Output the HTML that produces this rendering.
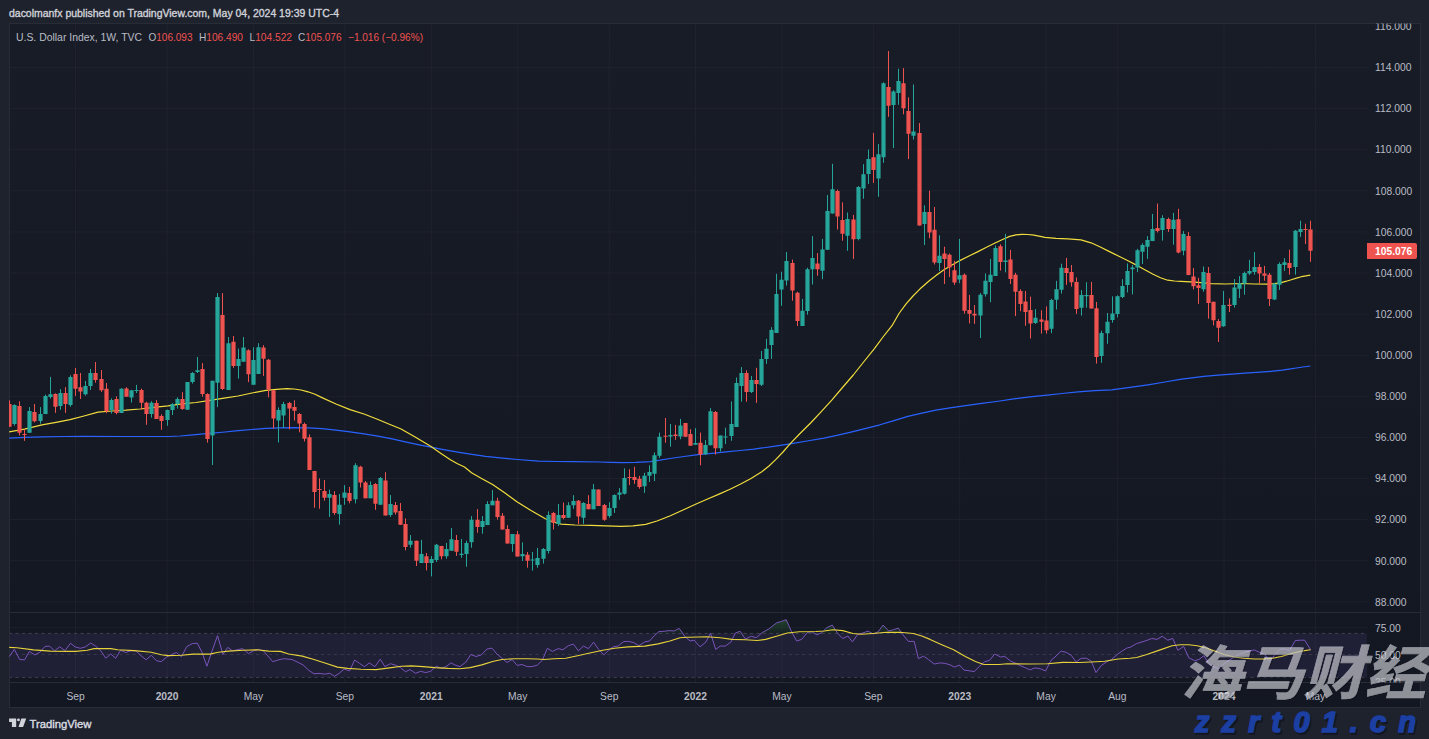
<!DOCTYPE html>
<html><head><meta charset="utf-8"><title>U.S. Dollar Index</title>
<style>html,body{margin:0;padding:0;background:#1e222d;}body{width:1429px;height:739px;overflow:hidden;position:relative;font-family:"Liberation Sans",sans-serif;}</style>
</head><body>
<svg width="1429" height="739" viewBox="0 0 1429 739" style="position:absolute;left:0;top:0">
<rect x="0" y="0" width="1429" height="739" fill="#1e222d"/>
<defs><linearGradient id="bgg" gradientUnits="userSpaceOnUse" x1="0" y1="23" x2="0" y2="707"><stop offset="0" stop-color="#181c27"/><stop offset="1" stop-color="#131722"/></linearGradient></defs>
<rect x="9" y="23" width="1411" height="684" fill="url(#bgg)"/>
<defs><linearGradient id="og" gradientUnits="userSpaceOnUse" x1="0" y1="614" x2="0" y2="633.4"><stop offset="0" stop-color="#2e7d32" stop-opacity="0.55"/><stop offset="1" stop-color="#2e7d32" stop-opacity="0.08"/></linearGradient><clipPath id="cp"><rect x="9" y="23" width="1358" height="589.5"/></clipPath><clipPath id="cr"><rect x="9" y="612.5" width="1358" height="70.0"/></clipPath><clipPath id="cb"><rect x="1367" y="612.5" width="53" height="70.0"/></clipPath><clipPath id="ca"><rect x="1367" y="23.5" width="53" height="684"/></clipPath></defs>
<path d="M75.6 23V682.5M167.1 23V682.5M253.4 23V682.5M344.9 23V682.5M431.3 23V682.5M517.7 23V682.5M609.2 23V682.5M695.5 23V682.5M781.9 23V682.5M873.3 23V682.5M959.7 23V682.5M1046.1 23V682.5M1117.3 23V682.5M1224 23V682.5M1315.4 23V682.5M9 601.8H1367M9 560.7H1367M9 519.6H1367M9 478.5H1367M9 437.4H1367M9 396.3H1367M9 355.2H1367M9 314.1H1367M9 273H1367M9 231.9H1367M9 190.8H1367M9 149.7H1367M9 108.6H1367M9 67.5H1367M9 627.7H1367" stroke="#2a2e39" stroke-opacity="0.42" stroke-width="1" fill="none"/>
<rect x="9" y="633.4" width="1358" height="44.0" fill="#7e57c2" fill-opacity="0.12"/>
<path d="M9 633.4H1367M9 677.4H1367" stroke="#787b86" stroke-opacity="0.4" stroke-width="1" stroke-dasharray="3.2 3.3" fill="none"/>
<path d="M9 654.5H1367" stroke="#787b86" stroke-opacity="0.26" stroke-width="1" stroke-dasharray="3.2 3.3" fill="none"/>
<path d="M9 612.5H1420M9 682.5H1420" stroke="#282c37" stroke-width="1" fill="none"/>
<path d="M1367.5 23V682.5" stroke="#20242f" stroke-width="1" fill="none" opacity="0"/>
<rect x="9.5" y="23.5" width="1411" height="684" fill="none" stroke="#282c37" stroke-width="1"/>
<g clip-path="url(#cp)">
<path d="M9.2 438.1L25 437.4L42 436.8L63 436.5L84 436.3L126 436.5L168 436.5L180 436L190.3 435.1L201 434.2L212.7 433.2L225 432L238 430.7L252 429.5L266 428.4L280 427.8L294 427.6L308 427.9L322 428.7L336 430.1L350 431.8L364 433.9L378 436.2L392 438.9L406.4 442.1L418 444.6L431 447.2L445 449.9L459.2 452.4L472 454.4L485.6 456.3L500 457.9L517.3 459.5L538.4 461.1L556 461.5L573.6 461.7L600 462L611 462.4L622.4 462.6L636 462.4L650.4 461.6L660 460.2L670 458.5L684 456.5L698 454.7L712 453.3L726 451.9L740 450.5L754 449.1L772 446.6L790.3 443.8L807 441L824 438.2L838 435.1L852 431.8L866 428.3L880 424.8L894 420.6L907.9 416.4L922 413.2L935.9 410.2L950 407.9L963.9 405.8L980 403.7L1000 401L1013.6 398.9L1030 396.9L1047.2 395.1L1062 393.5L1078 391.8L1095 390.7L1111.6 389.8L1130 387.4L1148 384.8L1165 382L1181.5 379.2L1192 377.8L1203.9 376.4L1218 375.2L1231.9 374.1L1245 373.2L1259.9 372.2L1271 371.3L1282.3 370.2L1289 369.2L1296.3 368L1303 367L1310.3 366" stroke="#2962ff" stroke-width="1.2" fill="none" stroke-linejoin="round"/>
<path d="M9.2 431.8L24.5 429.2L42 424.8L56 422.3L70 419.7L84 416L98 412.2L112 411L126 410.2L140 409L154 407.4L168 405.8L182 403.8L196 402.5L210 400.4L224 398.2L238 396L252 393L266 390.4L273.3 389.6L280 389.1L287 388.7L294 389L301 390L308 391.8L315 394.3L322 397.6L336 404L350 409.6L364 414L378 419.5L390 424.5L401.1 429L416 437.5L431 446.6L441 453.5L450.4 459.8L457 463.5L464.5 467L471.5 472.8L482 478.7L492.6 484.5L505 493L517.3 502.1L531 510.5L545.4 518.8L553 522L561.2 524.1L575 525L591.2 525.3L606 525.8L621.1 526.3L633 525.8L645.7 524.3L657 521L670.4 515.7L683 510L695 504.5L707 499.3L719.6 493.9L730 489.3L740.7 484L751 478.5L761.8 471.7L769 466L775.9 459.4L783 452L790 443.8L800 433.5L811.1 422.5L821.5 411.3L832.2 399.6L842.5 387.5L853.3 375L864 361.5L874.4 348.6L883 337L892 325.7L899 313.5L906.1 303.8L913 296L920.1 288.8L929.3 280.8L937 274.8L944 269.8L952 265L959.8 260.6L969 256L978 251.6L986.5 247.3L995.1 243L1002.5 239.5L1009.7 236.4L1016 234.9L1021.9 234.3L1028 234.5L1034 235.2L1045 237.3L1056 238.3L1068 238.9L1081 239.9L1091 242.8L1100.3 247L1109 251.4L1117.9 255.8L1126.5 260L1135.5 264.6L1144.3 269.5L1153.1 274.2L1160.5 277.7L1167.7 280.2L1174.5 281L1180.9 281.3L1195 282.2L1211.3 283.6L1225.5 284L1241.7 283.5L1254 284L1267 284.2L1274.5 283.7L1281.2 282.7L1286.5 281.2L1291.3 279.7L1296.4 278.2L1301.4 276.7L1306 275.8L1310.3 275.1" stroke="#f0dc3c" stroke-width="1.2" fill="none" stroke-linejoin="round"/>
<path d="M1300.5 220.7V236.9M1295.5 230V274.7M1284.5 258.2V271M1279.5 262.3V289.9M1274.5 282.8V300M1254.5 252.1V274.7M1249.5 259.8V275.1M1244.5 271.6V294.7M1239.5 276.1V298M1234.5 279.1V307.5M1223.5 290.9V326.8M1203.5 266.5V291.7M1183.5 231.1V255.3M1173.5 212.9V244.7M1162.5 215.3V240.6M1152.5 213.9V241.1M1147.5 236.2V258.9M1142.5 243.3V264M1137.5 248.8V272.1M1132.5 265V294.4M1127.5 263.4V292.4M1122.5 279.2V298.1M1117.5 295.4V317.4M1112.5 296.3V322.7M1107.5 313V343.8M1101.5 330.6V362.8M1086.5 282.2V307.7M1081.5 290.1V315.6M1061.5 263.7V293.6M1056.5 280.8V309.5M1051.5 298.9V333.2M1035.5 309.1V323.9M1005.5 233.8V272.3M995.5 245.5V275.9M990.5 258.9V302.2M985.5 273.5V296.6M980.5 293V338M959.5 238.9V283.2M939.5 235.3V271M924.5 205.3V245M913.5 84.5V139.5M898.5 68.8V104.8M893.5 90.2V148.1M883.5 82.3V162.8M878.5 143.9V196.8M868.5 149.6V183.9M863.5 164.2V198.7M858.5 186.1V240.3M847.5 212.5V250.8M832.5 163.8V213.5M827.5 195V249.8M822.5 238.9V279.2M812.5 236.2V284.5M807.5 267.7V314.7M802.5 298.9V326M786.5 252V285.5M781.5 271.7V305.8M776.5 273.8V332.9M771.5 327.2V358.9M766.5 338.8V363.9M761.5 351V386M751.5 376V393M741.5 367.1V401.7M736.5 377.5V427M731.5 401.4V440.8M725.5 427.7V444.1M720.5 435.6V451.5M710.5 408.1V445.3M705.5 440.1V454.9M695.5 428.1V444.8M680.5 418.9V439.3M670.5 424V446.7M659.5 432.6V457.9M654.5 452.4V481M649.5 465.3V482M644.5 472.8V492.9M624.5 468.3V494.5M619.5 488.1V499.7M614.5 494.3V512.9M609.5 502.2V517.8M593.5 484V509.3M583.5 502.2V523.8M573.5 495.2V508.9M568.5 502.2V517.8M558.5 504V526M548.5 511.4V553.5M543.5 548V563.6M537.5 547.9V567.7M532.5 552V570.6M522.5 542.4V561M512.5 534V551.8M492.5 490.1V505.3M487.5 501.2V525.1M482.5 516.1V533.7M471.5 516.1V547.7M466.5 540.7V566.7M461.5 538.9V557.8M451.5 528V550.8M446.5 542.9V558.8M436.5 543.9V562M431.5 556V576.4M421.5 539.9V563M410.5 535V547.7M390.5 495V516.9M380.5 477V504.8M370.5 481.4V498.3M355.5 463.2V503.4M344.5 485.1V504.8M339.5 494V524.7M329.5 489.6V516.9M283.5 401.9V428.1M278.5 407.4V442.5M258.5 343.2V373.9M253.5 347.2V384.7M243.5 337.1V361.7M238.5 348.6V378.6M228.5 337.1V389.9M217.5 293.1V407.1M212.5 380.7V465M197.5 357V373M192.5 372.1V383.6M187.5 382.1V409.8M177.5 397.4V408.5M172.5 403.2V415M167.5 409.5V425.8M151.5 401.2V417.7M136.5 384.9V393M131.5 390.2V402.5M121.5 388.2V412.9M111.5 398.3V413.6M90.5 368.9V389.9M85.5 381V395.6M70.5 375.3V406.7M60.5 389.1V409.8M50.5 376.9V398.6M45.5 394.6V414.1M40.5 407.1V423.7M29.5 407.1V432.8M14.5 404.4V425.6" stroke="#26a69a" stroke-width="1" fill="none"/>
<path d="M1310.5 220.7V261.9M1305.5 223.7V244M1289.5 249.7V274.7M1269.5 273V306.1M1264.5 265.9V280.7M1259.5 263.9V283.6M1229.5 298.4V312M1218.5 319.1V342M1213.5 301.8V325.4M1208.5 267V318.7M1198.5 277.8V303.9M1193.5 268V289.3M1188.5 232.1V275.1M1178.5 208.8V253.4M1168.5 217.7V231.9M1157.5 203.5V232.5M1096.5 301.9V363.6M1091.5 281.9V308.6M1076.5 277.5V313.9M1071.5 265V286.6M1066.5 257.9V284.8M1046.5 306.5V333.6M1041.5 310.3V333.6M1030.5 296.6V338.5M1025.5 291V325.8M1020.5 289.3V311.2M1015.5 272.8V316.1M1010.5 249.9V284M1000.5 244.3V270.6M974.5 305.1V323.9M969.5 294.9V323.4M964.5 273.5V313.7M954.5 260.8V284.9M949.5 253.5V277.1M944.5 246.7V284M934.5 207V264.5M929.5 190.7V238.2M919.5 123V225.5M908.5 97.3V159.1M903.5 68.1V114.3M888.5 51V116.8M873.5 132.9V182.9M853.5 214.9V258.9M842.5 202.3V240.7M837.5 189.6V229.5M817.5 253.1V275.8M797.5 291.8V326M792.5 259.6V300.7M756.5 367.8V402.9M746.5 370.3V401.7M715.5 411V454.6M700.5 432.6V465.3M690.5 429.2V445.7M685.5 422.9V436.8M675.5 424.9V439.8M665.5 418V442.7M639.5 475.8V488.7M634.5 466.8V483.9M629.5 469.2V485.1M604.5 504V520.8M598.5 489.5V505.9M588.5 495.2V509.3M578.5 500V524.1M563.5 502.5V519.3M553.5 511.9V529.4M527.5 552V567.7M517.5 530.9V556.5M507.5 525.1V543.6M502.5 513.1V529.5M497.5 497.8V519.5M477.5 509.1V532.8M456.5 535V555.9M441.5 545.9V559.3M426.5 553V570.4M416.5 540.7V566M405.5 518.4V550.3M400.5 503V524.8M395.5 502V514.6M385.5 472.2V515.4M375.5 483.1V509.8M365.5 481V498.3M360.5 465.8V487.5M349.5 486.9V503.4M334.5 491.2V514.9M324.5 480V500.7M319.5 478.4V508.8M314.5 470.9V507.8M309.5 434.4V469.9M304.5 422.6V441.5M299.5 413.1V432.3M294.5 400.3V420.6M289.5 401.9V429.3M273.5 390.2V428.5M268.5 359V397.3M263.5 345.2V375.9M248.5 349.3V382.2M233.5 336V367.8M222.5 293.1V389.9M207.5 393.3V442.7M202.5 363.1V396.7M182.5 392.2V409.8M161.5 414.3V429.8M156.5 400.1V419M146.5 401.8V424.8M141.5 388.6V409.5M126.5 387.2V396.7M116.5 396.3V414.3M106.5 383V413.2M101.5 370V391.8M95.5 362V382.7M80.5 373V399M75.5 368V395.9M65.5 387.1V412.9M55.5 393.3V412.9M34.5 404V422.3M24.5 429.2V440.9M19.5 401.3V435.5M9.5 400.3V426.7" stroke="#ef5350" stroke-width="1" fill="none"/>
<path d="M1298.4 229h4.2V231.9h-4.2zM1293.4 230.8h4.2V267h-4.2zM1282.4 262.3h4.2V264.9h-4.2zM1277.4 263.9h4.2V284.8h-4.2zM1272.4 283.8h4.2V299.4h-4.2zM1252.4 267h4.2V272h-4.2zM1247.4 271h4.2V273.6h-4.2zM1242.4 273h4.2V283.6h-4.2zM1237.4 283.2h4.2V288.7h-4.2zM1232.4 287.6h4.2V305.1h-4.2zM1221.4 305.1h4.2V326.2h-4.2zM1201.4 272h4.2V289.3h-4.2zM1181.4 234h4.2V250.8h-4.2zM1171.4 219.8h4.2V228.9h-4.2zM1160.4 217.9h4.2V229.9h-4.2zM1150.4 229.1h4.2V241.1h-4.2zM1145.4 240h4.2V246.7h-4.2zM1140.4 245.1h4.2V251.8h-4.2zM1135.4 250.2h4.2V267.4h-4.2zM1130.4 267.6h4.2V269.3h-4.2zM1125.4 271.1h4.2V284.9h-4.2zM1120.4 285.9h4.2V297h-4.2zM1115.4 296.3h4.2V313.9h-4.2zM1110.4 313.5h4.2V320h-4.2zM1105.4 321.8h4.2V333.2h-4.2zM1099.4 332.9h4.2V356.1h-4.2zM1084.4 295h4.2V296.3h-4.2zM1079.4 295h4.2V307.7h-4.2zM1059.4 267.8h4.2V289.8h-4.2zM1054.4 289.2h4.2V299.8h-4.2zM1049.4 300.1h4.2V328.8h-4.2zM1033.4 317.7h4.2V323h-4.2zM1003.4 260.6h4.2V262h-4.2zM993.4 247.9h4.2V275.9h-4.2zM988.4 274.7h4.2V282h-4.2zM983.4 280.8h4.2V294.2h-4.2zM978.4 294.7h4.2V315.6h-4.2zM957.4 275.2h4.2V279.6h-4.2zM937.4 255.7h4.2V263h-4.2zM922.4 212.1h4.2V224.1h-4.2zM911.4 131.6h4.2V135.7h-4.2zM896.4 81.1h4.2V93.1h-4.2zM891.4 91.6h4.2V105h-4.2zM881.4 83.2h4.2V157.2h-4.2zM876.4 154.3h4.2V178.4h-4.2zM866.4 159.1h4.2V174h-4.2zM861.4 174.2h4.2V188.4h-4.2zM856.4 186.9h4.2V238.9h-4.2zM845.4 219h4.2V235.8h-4.2zM830.4 189.2h4.2V213.5h-4.2zM825.4 210.9h4.2V249.8h-4.2zM820.4 249.4h4.2V270.7h-4.2zM810.4 257.9h4.2V269.3h-4.2zM805.4 269.3h4.2V310.9h-4.2zM800.4 310.8h4.2V326h-4.2zM784.4 261h4.2V280.5h-4.2zM779.4 279.8h4.2V289.6h-4.2zM774.4 294h4.2V332.9h-4.2zM769.4 329.9h4.2V345.1h-4.2zM764.4 348.8h4.2V358.9h-4.2zM759.4 358.9h4.2V384.8h-4.2zM749.4 380h4.2V391.9h-4.2zM739.4 373h4.2V386h-4.2zM734.4 383h4.2V427h-4.2zM729.4 424h4.2V436h-4.2zM723.4 436.4h4.2V437.4h-4.2zM718.4 435.6h4.2V448.2h-4.2zM708.4 411.3h4.2V445.3h-4.2zM703.4 445h4.2V454.2h-4.2zM693.4 443h4.2V444.8h-4.2zM678.4 425.5h4.2V436.6h-4.2zM668.4 435.1h4.2V436.6h-4.2zM657.4 436.8h4.2V455.7h-4.2zM652.4 455.2h4.2V473.8h-4.2zM647.4 472h4.2V475.8h-4.2zM642.4 475.8h4.2V486.2h-4.2zM622.4 478.1h4.2V493.7h-4.2zM617.4 492.5h4.2V494.8h-4.2zM612.4 495.1h4.2V508.1h-4.2zM607.4 508.1h4.2V516h-4.2zM591.4 489.3h4.2V509.3h-4.2zM581.4 502.9h4.2V517.8h-4.2zM571.4 501h4.2V505.2h-4.2zM566.4 505.2h4.2V517.8h-4.2zM556.4 515.1h4.2V524.1h-4.2zM546.4 515.1h4.2V550.9h-4.2zM541.4 549.1h4.2V558.7h-4.2zM535.4 558h4.2V565h-4.2zM530.4 559.6h4.2V560.6h-4.2zM520.4 554h4.2V556.2h-4.2zM510.4 534h4.2V543.9h-4.2zM490.4 500.8h4.2V505.3h-4.2zM485.4 503.9h4.2V525.1h-4.2zM480.4 521h4.2V527h-4.2zM469.4 519.8h4.2V542.2h-4.2zM464.4 542.9h4.2V554.1h-4.2zM459.4 553.8h4.2V555.1h-4.2zM449.4 539.2h4.2V550.8h-4.2zM444.4 548.9h4.2V556.3h-4.2zM434.4 544.8h4.2V560h-4.2zM429.4 559h4.2V563h-4.2zM419.4 554.1h4.2V563h-4.2zM408.4 540.7h4.2V544.8h-4.2zM388.4 503.9h4.2V514.9h-4.2zM378.4 478h4.2V504.8h-4.2zM368.4 484.9h4.2V498.3h-4.2zM353.4 465.2h4.2V499.3h-4.2zM342.4 492.6h4.2V497.7h-4.2zM337.4 504.8h4.2V513.9h-4.2zM327.4 494h4.2V497.7h-4.2zM281.4 403.9h4.2V415.5h-4.2zM276.4 410h4.2V420.6h-4.2zM256.4 347.2h4.2V373.9h-4.2zM251.4 360.1h4.2V384.7h-4.2zM241.4 347.5h4.2V361.7h-4.2zM236.4 359h4.2V365.9h-4.2zM226.4 343.2h4.2V389.9h-4.2zM215.4 296.9h4.2V382.7h-4.2zM210.4 380.7h4.2V435.5h-4.2zM195.4 370.3h4.2V371.9h-4.2zM190.4 373h4.2V382.1h-4.2zM185.4 382.1h4.2V409.8h-4.2zM175.4 399h4.2V404.1h-4.2zM170.4 404.1h4.2V409.9h-4.2zM165.4 409.9h4.2V420h-4.2zM149.4 402.8h4.2V413.9h-4.2zM134.4 390h4.2V391h-4.2zM129.4 390.2h4.2V397.4h-4.2zM119.4 388.8h4.2V412.9h-4.2zM109.4 400.1h4.2V410.1h-4.2zM88.4 373.1h4.2V386h-4.2zM83.4 386h4.2V394.2h-4.2zM68.4 377.1h4.2V405.1h-4.2zM58.4 393h4.2V405.9h-4.2zM48.4 394.2h4.2V396.9h-4.2zM43.4 396h4.2V414.1h-4.2zM38.4 414h4.2V420.9h-4.2zM27.4 410.9h4.2V432.8h-4.2zM12.4 405.1h4.2V424h-4.2z" fill="#26a69a"/>
<path d="M1308.4 229.4h4.2V250.7h-4.2zM1303.4 229.1h4.2V230.1h-4.2zM1287.4 262.9h4.2V268h-4.2zM1267.4 274.7h4.2V299h-4.2zM1262.4 273.6h4.2V275.7h-4.2zM1257.4 267h4.2V273.6h-4.2zM1227.4 304.7h4.2V306.1h-4.2zM1216.4 321.1h4.2V327.8h-4.2zM1211.4 301.8h4.2V320.3h-4.2zM1206.4 273h4.2V302.9h-4.2zM1196.4 285.3h4.2V287.9h-4.2zM1191.4 276.6h4.2V286.3h-4.2zM1186.4 236h4.2V275.1h-4.2zM1176.4 219.3h4.2V252.4h-4.2zM1166.4 218.9h4.2V229.1h-4.2zM1155.4 227.9h4.2V231.1h-4.2zM1094.4 308.2h4.2V357h-4.2zM1089.4 294.9h4.2V308.6h-4.2zM1074.4 281.9h4.2V309.1h-4.2zM1069.4 272h4.2V282.2h-4.2zM1064.4 268.1h4.2V272.9h-4.2zM1044.4 320.4h4.2V330.2h-4.2zM1039.4 319.5h4.2V321.8h-4.2zM1028.4 310h4.2V323.5h-4.2zM1023.4 301.5h4.2V312h-4.2zM1018.4 291h4.2V303.9h-4.2zM1013.4 274.7h4.2V291.7h-4.2zM1008.4 259.4h4.2V279.1h-4.2zM998.4 246.2h4.2V262h-4.2zM972.4 313.7h4.2V315.6h-4.2zM967.4 310h4.2V313.7h-4.2zM962.4 274.7h4.2V310.7h-4.2zM952.4 270.3h4.2V282.5h-4.2zM947.4 254.7h4.2V267.4h-4.2zM942.4 253.5h4.2V258.9h-4.2zM932.4 229.7h4.2V262.5h-4.2zM927.4 211.9h4.2V232.6h-4.2zM917.4 133h4.2V225.5h-4.2zM906.4 111.1h4.2V133.8h-4.2zM901.4 83.2h4.2V108.2h-4.2zM886.4 87h4.2V105.8h-4.2zM871.4 157.2h4.2V169.9h-4.2zM851.4 219.4h4.2V239.3h-4.2zM840.4 220h4.2V233.8h-4.2zM835.4 191h4.2V216.5h-4.2zM815.4 263.6h4.2V269.3h-4.2zM795.4 292.7h4.2V320.9h-4.2zM790.4 263h4.2V290.4h-4.2zM754.4 380h4.2V384h-4.2zM744.4 373h4.2V391.9h-4.2zM713.4 412.1h4.2V448.2h-4.2zM698.4 442.7h4.2V454.6h-4.2zM688.4 434.1h4.2V445.7h-4.2zM683.4 422.9h4.2V436.8h-4.2zM673.4 434.4h4.2V435.9h-4.2zM663.4 435.8h4.2V436.8h-4.2zM637.4 478.7h4.2V486.9h-4.2zM632.4 476.9h4.2V479.9h-4.2zM627.4 477.1h4.2V478.1h-4.2zM602.4 504.9h4.2V519.8h-4.2zM596.4 489.5h4.2V505.9h-4.2zM586.4 504h4.2V509.3h-4.2zM576.4 500.7h4.2V516.6h-4.2zM561.4 515.1h4.2V518.1h-4.2zM551.4 512.9h4.2V522.7h-4.2zM525.4 554.7h4.2V560.7h-4.2zM515.4 534.2h4.2V556.5h-4.2zM505.4 529.1h4.2V543.6h-4.2zM500.4 515.8h4.2V529.5h-4.2zM495.4 500.8h4.2V516.9h-4.2zM475.4 519.8h4.2V527h-4.2zM454.4 539.9h4.2V551.8h-4.2zM439.4 545.9h4.2V556.3h-4.2zM424.4 556.3h4.2V563h-4.2zM414.4 540.7h4.2V560.8h-4.2zM403.4 523.9h4.2V546.9h-4.2zM398.4 510.9h4.2V524.8h-4.2zM393.4 505h4.2V512.4h-4.2zM383.4 480.4h4.2V515.4h-4.2zM373.4 483.9h4.2V503.8h-4.2zM363.4 482.5h4.2V498.3h-4.2zM358.4 466.8h4.2V482.5h-4.2zM347.4 493h4.2V501.1h-4.2zM332.4 495h4.2V512.9h-4.2zM322.4 491h4.2V497.7h-4.2zM317.4 488.9h4.2V490h-4.2zM312.4 470.9h4.2V492h-4.2zM307.4 437.2h4.2V469.9h-4.2zM302.4 424h4.2V438.8h-4.2zM297.4 414.1h4.2V423.6h-4.2zM292.4 407h4.2V410.8h-4.2zM287.4 402.9h4.2V408.4h-4.2zM271.4 390.2h4.2V418.6h-4.2zM266.4 359.8h4.2V389.5h-4.2zM261.4 347.5h4.2V358.7h-4.2zM246.4 350.2h4.2V374.3h-4.2zM231.4 341.8h4.2V365.9h-4.2zM220.4 315.1h4.2V388.9h-4.2zM205.4 393.9h4.2V438.9h-4.2zM200.4 368.9h4.2V393.9h-4.2zM180.4 399h4.2V409.1h-4.2zM159.4 415.9h4.2V421h-4.2zM154.4 403h4.2V419h-4.2zM144.4 402.8h4.2V413.9h-4.2zM139.4 389.9h4.2V402.8h-4.2zM124.4 388.6h4.2V396.7h-4.2zM114.4 399h4.2V412.9h-4.2zM104.4 388.8h4.2V411.2h-4.2zM99.4 379.1h4.2V390.2h-4.2zM93.4 373h4.2V380h-4.2zM78.4 387.2h4.2V391.5h-4.2zM73.4 374.1h4.2V388.8h-4.2zM63.4 393h4.2V404h-4.2zM53.4 394h4.2V406.8h-4.2zM32.4 412h4.2V421.3h-4.2zM22.4 434.1h4.2V435.1h-4.2zM17.4 406h4.2V432.8h-4.2zM7.4 404h4.2V426.7h-4.2z" fill="#ef5350"/>
</g>
<g clip-path="url(#cr)">
<path d="M9.2 633.4L14.3 633.4L19.7 633.4L24.7 633.4L29.4 633.4L34.8 633.4L39.8 633.4L45 633.4L49.5 633.4L54.6 633.4L59.6 633.4L65 633.4L70.5 633.4L75.1 633.4L80.3 633.4L85.3 633.4L90.7 633.4L95.7 633.4L100.8 633.4L105.8 633.4L110.8 633.4L115.6 633.4L120.6 633.4L125.6 633.4L130.7 633.4L136 633.4L141.1 633.4L146.1 633.4L151.2 633.4L156.5 633.4L161.2 633.4L166.6 633.4L171.6 633.4L176.4 633.4L181.4 633.4L186.8 633.4L192.3 633.4L197.3 633.4L202 633.4L206.9 633.4L212 633.4L217.5 633.4L223 633.4L227.6 633.4L232.6 633.4L242.6 633.4L248.5 633.4L253.5 633.4L258.6 633.4L263.6 633.4L272.8 633.4L277.9 633.4L283.7 633.4L292.1 633.4L303.1 633.4L308.9 633.4L314 633.4L319 633.4L324.9 633.4L329.9 633.4L334.5 633.4L339.2 633.4L344.2 633.4L349.6 633.4L354.6 633.4L359.3 633.4L364.4 633.4L369.4 633.4L374.8 633.4L380.3 633.4L384.9 633.4L390.4 633.4L395.4 633.4L400.5 633.4L405.5 633.4L410 633.4L415.6 633.4L420.6 633.4L425.7 633.4L430.7 633.4L436.2 633.4L441.3 633.4L445.8 633.4L450.9 633.4L455.9 633.4L460 633.4L465.9 633.4L470.9 633.4L476 633.4L481.5 633.4L486.9 633.4L491.9 633.4L496.9 633.4L502 633.4L507 633.4L512.1 633.4L517.1 633.4L522.1 633.4L527.2 633.4L532.2 633.4L537.3 633.4L542.3 633.4L547.3 633.4L552.4 633.4L558.3 633.4L562.8 633.4L568.3 633.4L573.4 633.4L578.4 633.4L583.4 633.4L588.5 633.4L593.5 633.4L598.6 633.4L603.9 633.4L608.6 633.4L613.7 633.4L617.9 633.4L623.8 633.4L628.8 633.4L633.8 633.4L638.9 633.4L644.7 633.4L649.5 633.4L654.8 633.4L659 631.5L664.1 631.3L669.1 630.6L674.1 631L679.2 628.4L685.1 633.4L690.1 633.4L694.2 633.4L700.1 633.4L706 633.4L710.5 633.1L715.7 633.4L720.2 633.4L725.3 633.4L731.1 633.4L735.3 633L740.1 631.3L745.4 633.4L751.3 633.4L756.3 633.4L762.2 632.6L768.9 628.9L776.5 622.9L781.5 621.4L786.2 619.7L791.6 631.8L796.7 633.4L801.7 633.4L807.6 632.3L811.8 631.8L816.8 633.4L821.8 632.6L826.9 627.6L832.3 625.1L837.8 633.4L842.8 633.4L847.9 633.4L852.4 633.4L858 633.4L863 633L868 631L873.1 633.4L878.1 631.8L883.1 625.1L888.7 631L893.2 629.8L898.3 628.1L903.3 633.4L908.3 633.4L914.2 633.4L918.4 633.4L923.5 633.4L928.4 633.4L934.3 633.4L940.2 633.4L945.2 633.4L950.2 633.4L954.4 633.4L959.5 633.4L964 633.4L969.5 633.4L974.1 633.4L979.6 633.4L984.7 633.4L989.7 633.4L994.7 633.4L1000.6 633.4L1004.8 633.4L1010.7 633.4L1015.7 633.4L1020.8 633.4L1025.8 633.4L1030 633.4L1035 633.4L1040.1 633.4L1045.6 633.4L1051 633.4L1056 633.4L1061.1 633.4L1066.1 633.4L1071.2 633.4L1076.2 633.4L1081.2 633.4L1086.3 633.4L1091.3 633.4L1096 633.4L1101.4 633.4L1106.4 633.4L1111.5 633.4L1117.3 633.4L1122.4 633.4L1127.4 633.4L1130 633.4L1136.7 633.4L1145.1 633.4L1151.8 633.4L1156.9 633.4L1162.2 633.4L1167.8 633.4L1172.8 633.4L1177.9 633.4L1183.7 633.4L1188.8 633.4L1194.7 633.4L1198.9 633.4L1203.9 633.4L1208.9 633.4L1214 633.4L1219 633.4L1224.1 633.4L1229.1 633.4L1234.1 633.4L1239.2 633.4L1244.2 633.4L1249.2 633.4L1254.3 633.4L1259.3 633.4L1264.4 633.4L1269.4 633.4L1274.4 633.4L1279.5 633.4L1284.5 633.4L1289.6 633.4L1295.4 633.4L1300.5 633.4L1304.7 633.4L1310.6 633.4L1310.6 633.4L9.2 633.4z" fill="url(#og)"/>
<path d="M9.2 656.7L14.3 649.4L19.7 659.5L24.7 659.8L29.4 651.4L34.8 655L39.8 652.3L45 646.4L49.5 646.2L54.6 650.8L59.6 646.9L65 650.6L70.5 643.2L75.1 646.9L80.3 648.3L85.3 646.9L90.7 643L95.7 646.1L100.8 650.8L105.8 658.2L110.8 654L115.6 658.3L120.6 650.3L125.6 652.5L130.7 650.8L136 650.8L141.1 655.8L146.1 659.8L151.2 655.3L156.5 660.7L161.2 661.7L166.6 657L171.6 654.5L176.4 652.6L181.4 656.7L186.8 646.6L192.3 643.6L197.3 643.2L202 652.3L206.9 666.2L212 651.1L217.5 635.7L223 654.5L227.6 647.4L232.6 650.8L242.6 648.6L248.5 653.6L253.5 650.8L258.6 649.4L263.6 651.1L272.8 661.7L277.9 660L283.7 658.7L292.1 659.5L303.1 664.9L308.9 670.4L314 673.8L319 673.4L324.9 674.1L329.9 673.3L334.5 676.3L339.2 673.3L344.2 669.1L349.6 670.9L354.6 660L359.3 663.2L364.4 666.7L369.4 662.9L374.8 666.7L380.3 659.2L384.9 666.6L390.4 663.7L395.4 665.1L400.5 667.6L405.5 671.8L410 669.6L415.6 673.3L420.6 671.3L425.7 672.6L430.7 671.3L436.2 666.2L441.3 668.4L445.8 666.7L450.9 662.9L455.9 665.4L460 666.6L465.9 662L470.9 654.5L476 656.5L481.5 654.8L486.9 649.1L491.9 648.1L496.9 654L502 658.3L507 662.5L512.1 659.5L517.1 665.4L522.1 664.5L527.2 666.6L532.2 666.6L537.3 665.1L542.3 660.3L547.3 648.3L552.4 651.4L558.3 648.6L562.8 649.8L568.3 645.7L573.4 644.1L578.4 650.8L583.4 646.1L588.5 648.6L593.5 642.2L598.6 649.4L603.9 654.8L608.6 650.3L613.7 646.6L617.9 646.1L623.8 641.5L628.8 641.4L633.8 642.7L638.9 645.7L644.7 641.9L649.5 641L654.8 635.2L659 631.5L664.1 631.3L669.1 630.6L674.1 631L679.2 628.4L685.1 636.8L690.1 641L694.2 640.2L700.1 646.9L706 641.9L710.5 633.1L715.7 649.4L720.2 646.1L725.3 646.1L731.1 641.9L735.3 633L740.1 631.3L745.4 639L751.3 636.3L756.3 637.7L762.2 632.6L768.9 628.9L776.5 622.9L781.5 621.4L786.2 619.7L791.6 631.8L796.7 641L801.7 639.4L807.6 632.3L811.8 631.8L816.8 634.8L821.8 632.6L826.9 627.6L832.3 625.1L837.8 633.5L842.8 638.5L847.9 636L852.4 641.9L858 634L863 633L868 631L873.1 634L878.1 631.8L883.1 625.1L888.7 631L893.2 629.8L898.3 628.1L903.3 635.2L908.3 641.4L914.2 641.4L918.4 658.7L923.5 656.1L928.4 659.5L934.3 664L940.2 662.9L945.2 663.4L950.2 664.9L954.4 667.1L959.5 665.1L964 670.1L969.5 670.8L974.1 671.6L979.6 666.2L984.7 661.7L989.7 660.3L994.7 654L1000.6 657L1004.8 656.5L1010.7 661.2L1015.7 663.2L1020.8 665.9L1025.8 667.9L1030 669.9L1035 667.9L1040.1 668.7L1045.6 670.9L1051 660.3L1056 656.1L1061.1 651.1L1066.1 652.3L1071.2 655.3L1076.2 662L1081.2 658.3L1086.3 658.2L1091.3 661.2L1096 672.6L1101.4 665.4L1106.4 662L1111.5 659.5L1117.3 654.5L1122.4 650.8L1127.4 647.8L1130 647.4L1136.7 643.6L1145.1 641L1151.8 638.5L1156.9 639.4L1162.2 636.3L1167.8 640.2L1172.8 638.5L1177.9 650.3L1183.7 646.4L1188.8 657.8L1194.7 660.7L1198.9 659.5L1203.9 655.8L1208.9 663.7L1214 667.1L1219 668.7L1224.1 663.7L1229.1 660.3L1234.1 657L1239.2 654.5L1244.2 652.3L1249.2 651.1L1254.3 649.9L1259.3 652.3L1264.4 654L1269.4 661.7L1274.4 655.3L1279.5 649.4L1284.5 649.1L1289.6 650.3L1295.4 640.5L1300.5 640.2L1304.7 640.2L1310.6 649.8" stroke="#7e57c2" stroke-width="0.95" fill="none" stroke-linejoin="round"/>
<path d="M9.2 647.4L16.8 647.8L33.6 649.9L50.4 651.1L67.2 651.4L75.6 651.4L87.3 650.3L94.1 648.6L110.8 648.6L117.6 649.8L134.4 650.6L151.2 652.3L161.2 654.8L168 655.6L181.4 655.3L193.1 654.1L209.9 654.1L218.3 652.3L228.4 651.1L243.4 650.3L256.9 649.8L268.6 651.1L280.4 651.4L288.8 654L302.2 656.1L314 659.5L325.7 663.2L337.5 667.1L347.6 668.4L361 669.2L376.1 669.6L389.6 667.9L401.3 666.2L411.4 665.9L423.1 666.6L434.9 667.6L448.3 668.4L460 668.7L470.1 667.6L481.8 664.9L493.6 661.2L502 659.5L513.7 658.7L527.2 658.7L537.3 659L544 659.5L554.1 658.7L565.8 658.3L577.6 655.8L591 652.8L602.8 650.3L614.5 648.3L628 646.9L644.7 646.1L658.2 643.9L669.9 641L680 637.7L686.7 637.2L690 637.3L706.8 636.8L720.2 637.7L732 639.4L745.4 639.7L757.2 640.5L765.6 639.4L777.3 636L787.4 633L799.2 631.8L816 631.5L824.4 631L832.8 629.8L842.8 630.6L852.9 633.5L861.3 634.3L873.1 633.5L886.5 632.3L899.9 632.3L913.4 633.5L921.8 636L930.1 639.4L941.8 644.7L953.6 649.8L965.3 656.5L975.4 661.5L983.8 664.5L998.9 664.5L1007.3 663.7L1029.2 664L1047.6 663.7L1062.8 662.4L1079.6 662.5L1096.4 661.7L1104.7 661.2L1118.2 659L1130 658.3L1136.7 657.5L1146.8 654.5L1160.2 649.9L1172 645.7L1180.4 644.7L1188.8 644.7L1197.2 645.7L1205.6 647.8L1214 650.8L1224.1 654.5L1234.1 657L1244.2 658.3L1254.3 659L1264.4 659L1272.8 658.3L1281.2 656.5L1291.2 653.6L1301.3 651.1L1310.6 649.8" stroke="#e6d23a" stroke-width="1.15" fill="none" stroke-linejoin="round"/>
</g>
<g clip-path="url(#ca)" font-family="Liberation Sans, sans-serif" font-size="10.3" fill="#b9bcc5">
<text x="1375" y="605.6">88.000</text>
<text x="1375" y="564.5">90.000</text>
<text x="1375" y="523.4">92.000</text>
<text x="1375" y="482.3">94.000</text>
<text x="1375" y="441.2">96.000</text>
<text x="1375" y="400.1">98.000</text>
<text x="1375" y="359">100.000</text>
<text x="1375" y="317.9">102.000</text>
<text x="1375" y="276.8">104.000</text>
<text x="1375" y="235.6">106.000</text>
<text x="1375" y="194.5">108.000</text>
<text x="1375" y="153.4">110.000</text>
<text x="1375" y="112.3">112.000</text>
<text x="1375" y="71.2">114.000</text>
<text x="1375" y="30.1">116.000</text>
</g>
<g clip-path="url(#cb)" font-family="Liberation Sans, sans-serif" font-size="10.3" fill="#b9bcc5">
<text x="1375" y="631.6">75.00</text>
<text x="1375" y="658.7">50.00</text>
<text x="1375" y="685.6">25.00</text>
</g>
<path d="M1367 243h48a2 2 0 0 1 2 2v12a2 2 0 0 1-2 2h-48z" fill="#ef5350"/>
<text x="1375" y="254.8" font-family="Liberation Sans, sans-serif" font-size="10.3" font-weight="bold" fill="#fff">105.076</text>
<g font-family="Liberation Sans, sans-serif" font-size="10.3" fill="#b9bcc5" text-anchor="middle">
<text x="75.6" y="699.5">Sep</text>
<text x="167.1" y="699.5" font-weight="bold">2020</text>
<text x="253.4" y="699.5">May</text>
<text x="344.9" y="699.5">Sep</text>
<text x="431.3" y="699.5" font-weight="bold">2021</text>
<text x="517.7" y="699.5">May</text>
<text x="609.2" y="699.5">Sep</text>
<text x="695.5" y="699.5" font-weight="bold">2022</text>
<text x="781.9" y="699.5">May</text>
<text x="873.3" y="699.5">Sep</text>
<text x="959.7" y="699.5" font-weight="bold">2023</text>
<text x="1046.1" y="699.5">May</text>
<text x="1117.3" y="699.5">Aug</text>
<text x="1224" y="699.5" font-weight="bold">2024</text>
<text x="1315.4" y="699.5">May</text>
</g>
<text x="9" y="16.9" font-family="Liberation Sans, sans-serif" font-size="10.4" fill="#d0d2d9" stroke="#d0d2d9" stroke-width="0.35" textLength="330" lengthAdjust="spacingAndGlyphs">dacolmanfx published on TradingView.com, May 04, 2024 19:39 UTC-4</text>
<g font-family="Liberation Sans, sans-serif" font-size="10.3">
<text x="16" y="41.1" fill="#b9bcc5" textLength="126" lengthAdjust="spacingAndGlyphs">U.S. Dollar Index, 1W, TVC</text>
<text x="148.5" y="41.1" textLength="44" lengthAdjust="spacingAndGlyphs"><tspan fill="#b9bcc5">O</tspan><tspan fill="#ef5350">106.093</tspan></text>
<text x="199" y="41.1" textLength="44" lengthAdjust="spacingAndGlyphs"><tspan fill="#b9bcc5">H</tspan><tspan fill="#ef5350">106.490</tspan></text>
<text x="249.5" y="41.1" textLength="42.5" lengthAdjust="spacingAndGlyphs"><tspan fill="#b9bcc5">L</tspan><tspan fill="#ef5350">104.522</tspan></text>
<text x="298" y="41.1" textLength="43.5" lengthAdjust="spacingAndGlyphs"><tspan fill="#b9bcc5">C</tspan><tspan fill="#ef5350">105.076</tspan></text>
<text x="348" y="41.1" fill="#ef5350" textLength="75" lengthAdjust="spacingAndGlyphs">−1.016 (−0.96%)</text>
</g>
<g fill="#d2d4db"><path d="M9.1 718.5h7.1v8.4h-4.3v-5h-2.8z"/><circle cx="18.5" cy="719.9" r="1.45"/><path d="M21.3 718.5h4.9l-3.1 8.4h-4.6z"/></g>
<text x="29.5" y="727.6" font-family="Liberation Sans, sans-serif" font-size="11.6" fill="#d9dbe0" stroke="#d9dbe0" stroke-width="0.4" textLength="62" lengthAdjust="spacingAndGlyphs">TradingView</text>
<g transform="translate(1.2,1.2)" fill="#0a0c14" opacity="0.45"><text x="1181" y="694" font-family="'Liberation Sans', 'Noto Sans CJK SC', sans-serif" font-size="58" font-weight="bold" font-style="italic" textLength="245" lengthAdjust="spacingAndGlyphs">海马财经</text></g>
<g fill="rgb(248,249,255)" stroke="rgb(248,249,255)" stroke-width="0.7" stroke-linejoin="round" opacity="0.55"><text x="1181" y="694" font-family="'Liberation Sans', 'Noto Sans CJK SC', sans-serif" font-size="58" font-weight="bold" font-style="italic" textLength="245" lengthAdjust="spacingAndGlyphs">海马财经</text></g>
<text x="1195" y="732.4" font-family="'Liberation Sans', sans-serif" font-size="29" font-weight="bold" font-style="italic" fill="#0a0c14" stroke="#0a0c14" stroke-width="1.7" opacity="0.5" transform="translate(1.3,1.3)" textLength="221" lengthAdjust="spacing">zzrt01.cn</text>
<text x="1195" y="732.4" font-family="'Liberation Sans', sans-serif" font-size="29" font-weight="bold" font-style="italic" fill="#1b3fa2" stroke="#1b3fa2" stroke-width="1.7" stroke-linejoin="round" textLength="221" lengthAdjust="spacing">zzrt01.cn</text>
</svg>
</body></html>
